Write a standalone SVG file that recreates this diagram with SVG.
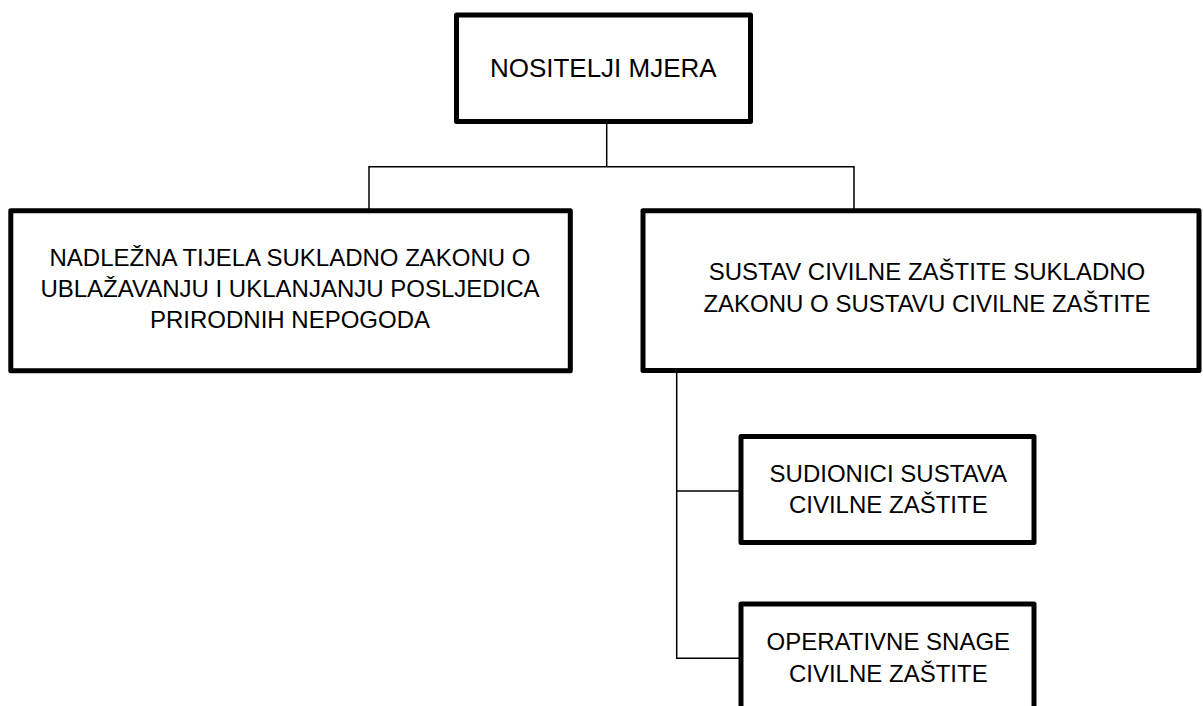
<svg xmlns="http://www.w3.org/2000/svg" width="1203" height="706" viewBox="0 0 1203 706">
<style>
.box{fill:#fff;stroke:#000;stroke-width:5;stroke-linejoin:round}
.c{fill:none;stroke:#000;stroke-width:1.5}
text{font-family:"Liberation Sans",Arial,sans-serif;fill:#000;text-anchor:middle}
.t24{font-size:24px}
.t26{font-size:26px}
</style>
<rect width="1203" height="706" fill="#fff"/>
<g id="connectors">
<path class="c" d="M606.7,121.5 V166.7 M369,210.8 V166.7 H854 V210.8"/>
<path class="c" d="M676.7,370.5 V658.3 H741 M676.7,491 H741"/>
</g>
<g id="n-top">
<rect class="box" x="456.5" y="15" width="294" height="106.5"/>
<text class="t26" x="603.3" y="76.7">NOSITELJI MJERA</text>
</g>
<g id="n-left">
<rect class="box" x="10.8" y="210.8" width="559.5" height="160"/>
<text class="t24" x="290" y="266">NADLEŽNA TIJELA SUKLADNO ZAKONU O</text>
<text class="t24" x="290" y="297">UBLAŽAVANJU I UKLANJANJU POSLJEDICA</text>
<text class="t24" x="290" y="328">PRIRODNIH NEPOGODA</text>
</g>
<g id="n-right">
<rect class="box" x="643" y="210.8" width="556" height="159.7"/>
<text class="t24" x="927" y="280">SUSTAV CIVILNE ZAŠTITE SUKLADNO</text>
<text class="t24" x="927" y="312">ZAKONU O SUSTAVU CIVILNE ZAŠTITE</text>
</g>
<g id="n-sudionici">
<rect class="box" x="741" y="436.5" width="293" height="106"/>
<text class="t24" x="888.3" y="481.5">SUDIONICI SUSTAVA</text>
<text class="t24" x="888.3" y="513">CIVILNE ZAŠTITE</text>
</g>
<g id="n-operativne">
<rect class="box" x="741" y="604" width="293" height="120"/>
<text class="t24" x="888.3" y="650">OPERATIVNE SNAGE</text>
<text class="t24" x="888.3" y="681.5">CIVILNE ZAŠTITE</text>
</g>
</svg>
